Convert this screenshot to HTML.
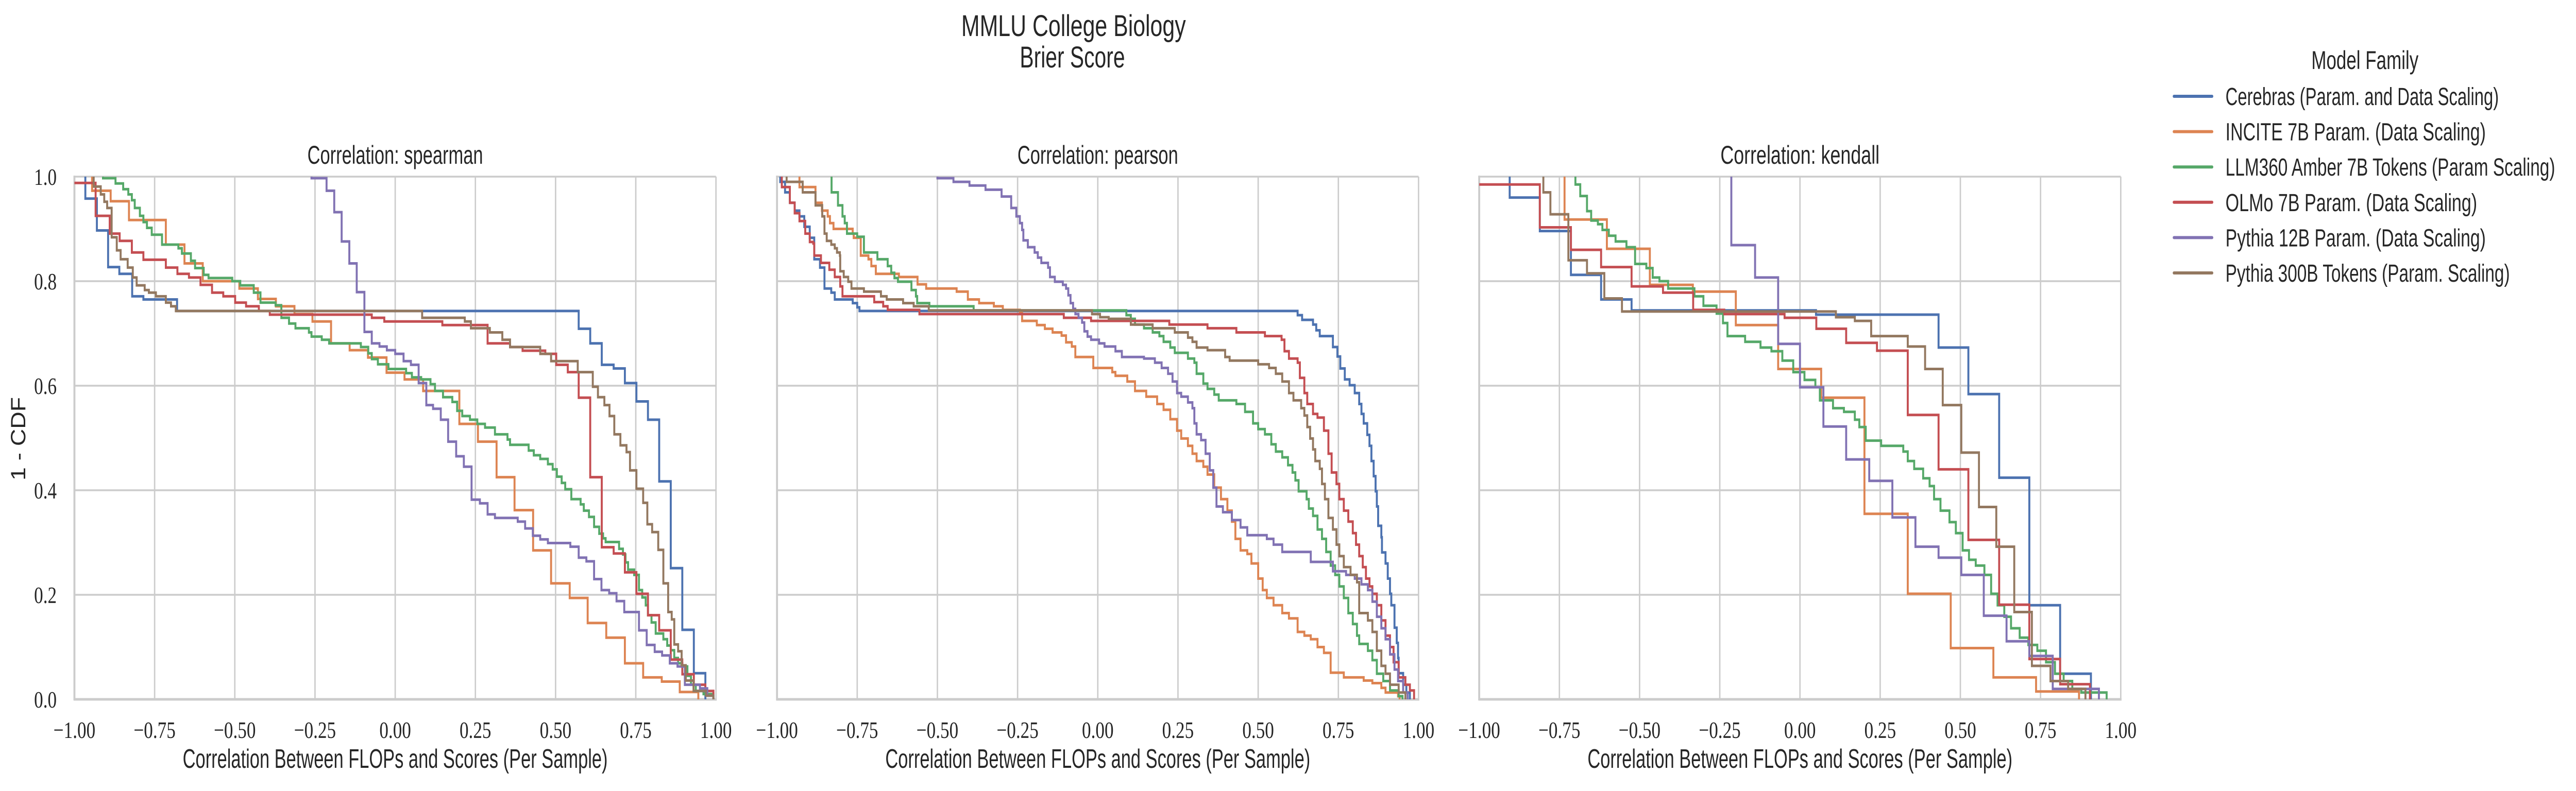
<!DOCTYPE html>
<html><head><meta charset="utf-8"><style>
html,body{margin:0;padding:0;background:#fff;overflow:hidden;width:100%;height:100%;}
svg{display:block;width:100vw;height:100vh;}
.sans{font-family:"Liberation Sans",sans-serif;fill:#262626;}
.serif{font-family:"Liberation Serif",serif;fill:#262626;}
</style></head><body>
<svg id="fig" xmlns="http://www.w3.org/2000/svg" viewBox="0 0 6541 1536" preserveAspectRatio="none">
<rect x="0" y="0" width="6541" height="1536" fill="#fff"/>
<text class="sans" x="2726" y="70" font-size="58" text-anchor="middle" textLength="570" lengthAdjust="spacingAndGlyphs">MMLU College Biology</text>
<text class="sans" x="2723" y="131" font-size="58" text-anchor="middle" textLength="267" lengthAdjust="spacingAndGlyphs">Brier Score</text>
<g id="panels"></g>
<g id="legend">
<text class="sans" x="6005" y="134" font-size="50" text-anchor="middle" textLength="272" lengthAdjust="spacingAndGlyphs">Model Family</text>
</g>
</svg>
<script>
// ---- data: categories and step-survival series (x = correlation, y = 1 - CDF) ----
const families = ["Cerebras (Param. and Data Scaling)","INCITE 7B Param. (Data Scaling)","LLM360 Amber 7B Tokens (Param Scaling)","OLMo 7B Param. (Data Scaling)","Pythia 12B Param. (Data Scaling)","Pythia 300B Tokens (Param. Scaling)"];
const colors = ["#4c72b0","#dd8452","#55a868","#c44e52","#8172b3","#937860"];
const panelTitles = ["Correlation: spearman","Correlation: pearson","Correlation: kendall"];
const xTicks = [-1,-0.75,-0.5,-0.25,0,0.25,0.5,0.75,1];
const xTickLabels = ["\u22121.00","\u22120.75","\u22120.50","\u22120.25","0.00","0.25","0.50","0.75","1.00"];
const yTicks = [0,0.2,0.4,0.6,0.8,1.0];
const yTickLabels = ["0.0","0.2","0.4","0.6","0.8","1.0"];

// Spearman
const sp_cerebras_start = 1.0;
const sp_cerebras = [[-0.966,0.958],[-0.93,0.897],[-0.895,0.827],[-0.86,0.814],[-0.82,0.771],[-0.785,0.765],[-0.68,0.743],[0.572,0.709],[0.608,0.681],[0.644,0.640],[0.681,0.633],[0.716,0.605],[0.752,0.570],[0.788,0.535],[0.823,0.417],[0.859,0.251],[0.895,0.133],[0.931,0.05],[0.967,0]];
const sp_incite_start = 1.0;
const sp_incite = [[-0.945,0.973],[-0.887,0.953],[-0.83,0.917],[-0.715,0.870],[-0.657,0.834],[-0.6,0.8],[-0.486,0.786],[-0.428,0.766],[-0.372,0.752],[-0.314,0.737],[-0.258,0.723],[-0.2,0.681],[-0.142,0.668],[-0.085,0.654],[-0.027,0.625],[0.029,0.612],[0.087,0.590],[0.2,0.527],[0.258,0.493],[0.316,0.425],[0.372,0.362],[0.43,0.285],[0.486,0.222],[0.544,0.194],[0.6,0.146],[0.658,0.118],[0.716,0.069],[0.773,0.042],[0.831,0.034],[0.887,0.014],[0.945,0]];
const sp_amber_start = 1.0;
const sp_amber = [[-0.911,0.997],[-0.872,0.987],[-0.848,0.976],[-0.832,0.966],[-0.821,0.955],[-0.812,0.940],[-0.796,0.925],[-0.785,0.913],[-0.774,0.902],[-0.759,0.889],[-0.727,0.870],[-0.676,0.863],[-0.665,0.853],[-0.637,0.839],[-0.624,0.825],[-0.597,0.812],[-0.582,0.806],[-0.508,0.8],[-0.483,0.792],[-0.441,0.778],[-0.420,0.759],[-0.373,0.754],[-0.355,0.730],[-0.331,0.719],[-0.311,0.710],[-0.269,0.702],[-0.261,0.694],[-0.229,0.688],[-0.206,0.681],[-0.107,0.674],[-0.084,0.662],[-0.073,0.651],[-0.054,0.641],[-0.021,0.632],[0.034,0.624],[0.052,0.616],[0.081,0.612],[0.110,0.603],[0.124,0.590],[0.149,0.578],[0.178,0.569],[0.193,0.552],[0.209,0.542],[0.233,0.535],[0.256,0.527],[0.280,0.520],[0.311,0.507],[0.350,0.497],[0.358,0.487],[0.416,0.476],[0.432,0.467],[0.452,0.460],[0.476,0.450],[0.491,0.440],[0.504,0.426],[0.519,0.414],[0.530,0.402],[0.549,0.383],[0.578,0.373],[0.588,0.361],[0.604,0.349],[0.620,0.330],[0.636,0.317],[0.648,0.308],[0.656,0.301],[0.698,0.288],[0.710,0.277],[0.718,0.262],[0.726,0.248],[0.745,0.238],[0.760,0.209],[0.770,0.195],[0.781,0.180],[0.788,0.161],[0.799,0.147],[0.812,0.126],[0.836,0.115],[0.848,0.103],[0.859,0.094],[0.870,0.079],[0.882,0.069],[0.895,0.063],[0.911,0.045],[0.922,0.028],[0.937,0.016],[0.961,0.010],[0.992,0]];
const sp_olmo_start = 0.988;
const sp_olmo = [[-0.934,0.925],[-0.890,0.891],[-0.859,0.877],[-0.821,0.855],[-0.785,0.841],[-0.715,0.826],[-0.679,0.814],[-0.643,0.807],[-0.607,0.793],[-0.571,0.778],[-0.536,0.771],[-0.499,0.759],[-0.465,0.752],[-0.425,0.743],[-0.391,0.736],[-0.073,0.730],[-0.034,0.723],[0.147,0.716],[0.288,0.681],[0.358,0.674],[0.397,0.667],[0.468,0.661],[0.502,0.640],[0.538,0.626],[0.572,0.577],[0.608,0.425],[0.644,0.291],[0.681,0.279],[0.716,0.243],[0.752,0.202],[0.788,0.161],[0.823,0.132],[0.859,0.076],[0.895,0.048],[0.931,0.028],[0.967,0.016],[0.992,0]];
const sp_pythia12_start = 1.0;
const sp_pythia12 = [[-0.261,0.997],[-0.214,0.973],[-0.190,0.932],[-0.167,0.876],[-0.143,0.834],[-0.120,0.779],[-0.096,0.703],[-0.073,0.681],[-0.049,0.675],[-0.026,0.668],[0.0,0.661],[0.026,0.647],[0.049,0.640],[0.073,0.605],[0.097,0.563],[0.118,0.556],[0.142,0.535],[0.165,0.493],[0.190,0.465],[0.214,0.445],[0.238,0.382],[0.264,0.375],[0.288,0.354],[0.311,0.347],[0.382,0.340],[0.405,0.327],[0.429,0.313],[0.452,0.306],[0.476,0.299],[0.546,0.292],[0.572,0.271],[0.596,0.264],[0.620,0.230],[0.643,0.209],[0.667,0.203],[0.690,0.188],[0.714,0.167],[0.760,0.132],[0.784,0.104],[0.809,0.091],[0.832,0.084],[0.856,0.069],[0.880,0.063],[0.903,0.028],[0.950,0.021],[0.973,0.007],[0.992,0]];
const sp_pythia300_start = 1.0;
const sp_pythia300 = [[-0.940,0.981],[-0.918,0.966],[-0.907,0.952],[-0.898,0.940],[-0.884,0.884],[-0.868,0.859],[-0.856,0.842],[-0.834,0.826],[-0.818,0.807],[-0.806,0.792],[-0.781,0.783],[-0.768,0.778],[-0.746,0.771],[-0.715,0.759],[-0.699,0.752],[-0.684,0.743],[0.084,0.730],[0.217,0.723],[0.236,0.710],[0.295,0.702],[0.334,0.688],[0.358,0.674],[0.452,0.661],[0.486,0.647],[0.569,0.626],[0.616,0.598],[0.632,0.578],[0.652,0.563],[0.668,0.542],[0.683,0.507],[0.702,0.486],[0.721,0.473],[0.732,0.438],[0.752,0.403],[0.773,0.376],[0.786,0.335],[0.801,0.320],[0.820,0.286],[0.836,0.222],[0.851,0.167],[0.862,0.153],[0.870,0.105],[0.882,0.092],[0.893,0.065],[0.906,0.036],[0.930,0.016],[0.969,0.007],[0.992,0]];

// Pearson
const pe_cerebras_start = 1.0;
const pe_cerebras = [[-0.99,0.99],[-0.975,0.97],[-0.96,0.95],[-0.945,0.935],[-0.93,0.924],[-0.915,0.904],[-0.898,0.883],[-0.884,0.842],[-0.866,0.826],[-0.852,0.786],[-0.831,0.778],[-0.820,0.765],[-0.764,0.758],[-0.750,0.750],[-0.743,0.743],[0.623,0.735],[0.637,0.726],[0.671,0.717],[0.681,0.706],[0.692,0.695],[0.733,0.674],[0.747,0.656],[0.756,0.633],[0.770,0.612],[0.785,0.601],[0.801,0.586],[0.815,0.565],[0.822,0.546],[0.829,0.528],[0.840,0.506],[0.847,0.485],[0.853,0.456],[0.860,0.427],[0.866,0.398],[0.870,0.369],[0.874,0.332],[0.884,0.310],[0.886,0.281],[0.897,0.260],[0.904,0.231],[0.911,0.202],[0.915,0.180],[0.925,0.137],[0.932,0.108],[0.936,0.079],[0.938,0.050],[0.952,0.028],[0.962,0.013],[0.973,0]];
const pe_incite_start = 1.0;
const pe_incite = [[-0.93,0.98],[-0.88,0.95],[-0.86,0.935],[-0.842,0.924],[-0.835,0.911],[-0.824,0.900],[-0.764,0.891],[-0.761,0.883],[-0.739,0.849],[-0.715,0.842],[-0.706,0.829],[-0.692,0.814],[-0.620,0.808],[-0.562,0.794],[-0.535,0.786],[-0.440,0.780],[-0.405,0.765],[-0.370,0.758],[-0.324,0.752],[-0.296,0.745],[-0.243,0.739],[-0.236,0.724],[-0.190,0.716],[-0.165,0.709],[-0.141,0.702],[-0.113,0.696],[-0.099,0.683],[-0.081,0.675],[-0.070,0.655],[-0.014,0.634],[0.045,0.626],[0.055,0.619],[0.092,0.608],[0.116,0.590],[0.151,0.579],[0.185,0.565],[0.205,0.554],[0.226,0.536],[0.247,0.514],[0.260,0.499],[0.281,0.485],[0.295,0.470],[0.308,0.456],[0.329,0.445],[0.342,0.430],[0.363,0.405],[0.384,0.383],[0.404,0.361],[0.418,0.340],[0.429,0.307],[0.445,0.285],[0.466,0.278],[0.479,0.260],[0.500,0.231],[0.514,0.209],[0.527,0.194],[0.548,0.180],[0.575,0.165],[0.596,0.155],[0.623,0.129],[0.644,0.122],[0.664,0.115],[0.685,0.100],[0.705,0.089],[0.726,0.051],[0.767,0.042],[0.829,0.036],[0.856,0.031],[0.884,0.022],[0.897,0.013],[0.936,0.006],[0.941,0]];
const pe_amber_start = 1.0;
const pe_amber = [[-0.83,0.97],[-0.81,0.945],[-0.796,0.924],[-0.789,0.911],[-0.782,0.891],[-0.750,0.885],[-0.729,0.855],[-0.687,0.842],[-0.655,0.829],[-0.644,0.816],[-0.634,0.806],[-0.623,0.799],[-0.581,0.783],[-0.567,0.771],[-0.563,0.758],[-0.525,0.752],[-0.387,0.744],[0.089,0.735],[0.103,0.728],[0.116,0.717],[0.144,0.710],[0.171,0.702],[0.192,0.695],[0.205,0.684],[0.226,0.673],[0.240,0.663],[0.281,0.652],[0.301,0.644],[0.308,0.623],[0.329,0.604],[0.342,0.594],[0.363,0.583],[0.377,0.572],[0.432,0.565],[0.459,0.550],[0.484,0.528],[0.500,0.517],[0.521,0.507],[0.541,0.488],[0.555,0.474],[0.575,0.463],[0.593,0.448],[0.607,0.434],[0.616,0.419],[0.626,0.398],[0.651,0.383],[0.658,0.365],[0.671,0.351],[0.685,0.325],[0.699,0.307],[0.712,0.282],[0.726,0.256],[0.740,0.238],[0.753,0.216],[0.767,0.194],[0.781,0.165],[0.795,0.144],[0.808,0.122],[0.815,0.106],[0.842,0.093],[0.856,0.075],[0.870,0.049],[0.890,0.035],[0.911,0.017],[0.938,0.006],[0.95,0]];
const pe_olmo_start = 1.0;
const pe_olmo = [[-0.985,0.98],[-0.96,0.95],[-0.945,0.93],[-0.930,0.915],[-0.912,0.891],[-0.898,0.875],[-0.887,0.872],[-0.884,0.849],[-0.863,0.835],[-0.837,0.822],[-0.820,0.808],[-0.803,0.790],[-0.796,0.771],[-0.697,0.760],[-0.669,0.752],[-0.655,0.745],[-0.556,0.737],[-0.106,0.730],[-0.021,0.724],[0.223,0.717],[0.342,0.710],[0.432,0.702],[0.521,0.695],[0.573,0.688],[0.582,0.666],[0.596,0.652],[0.623,0.644],[0.630,0.615],[0.644,0.586],[0.653,0.565],[0.671,0.546],[0.685,0.539],[0.705,0.514],[0.719,0.470],[0.729,0.434],[0.744,0.412],[0.753,0.383],[0.767,0.361],[0.781,0.340],[0.795,0.318],[0.805,0.296],[0.815,0.274],[0.826,0.253],[0.836,0.231],[0.847,0.216],[0.856,0.202],[0.870,0.180],[0.884,0.151],[0.897,0.122],[0.911,0.100],[0.922,0.071],[0.938,0.042],[0.959,0.028],[0.973,0.017],[0.986,0]];
const pe_pythia12_start = 1.0;
const pe_pythia12 = [[-0.5,0.997],[-0.45,0.99],[-0.4,0.983],[-0.35,0.975],[-0.3,0.962],[-0.27,0.94],[-0.254,0.924],[-0.243,0.911],[-0.236,0.898],[-0.232,0.878],[-0.218,0.865],[-0.197,0.855],[-0.187,0.845],[-0.176,0.835],[-0.155,0.826],[-0.149,0.808],[-0.134,0.799],[-0.109,0.793],[-0.099,0.786],[-0.092,0.773],[-0.085,0.758],[-0.077,0.747],[-0.070,0.737],[-0.060,0.730],[-0.049,0.721],[-0.042,0.704],[-0.032,0.694],[-0.021,0.688],[0.004,0.681],[0.021,0.675],[0.055,0.666],[0.075,0.655],[0.144,0.652],[0.178,0.644],[0.199,0.634],[0.219,0.623],[0.233,0.608],[0.247,0.586],[0.260,0.579],[0.281,0.568],[0.295,0.557],[0.301,0.528],[0.308,0.507],[0.322,0.496],[0.336,0.470],[0.349,0.438],[0.360,0.405],[0.370,0.369],[0.390,0.358],[0.418,0.343],[0.445,0.329],[0.466,0.314],[0.527,0.307],[0.548,0.296],[0.575,0.282],[0.664,0.263],[0.733,0.245],[0.774,0.238],[0.801,0.231],[0.822,0.220],[0.842,0.209],[0.856,0.187],[0.870,0.158],[0.884,0.136],[0.897,0.115],[0.911,0.086],[0.925,0.057],[0.936,0.035],[0.952,0.013],[0.966,0]];
const pe_pythia300_start = 1.0;
const pe_pythia300 = [[-0.97,0.99],[-0.92,0.97],[-0.88,0.945],[-0.859,0.924],[-0.852,0.891],[-0.845,0.877],[-0.831,0.870],[-0.820,0.863],[-0.813,0.855],[-0.804,0.849],[-0.803,0.819],[-0.792,0.808],[-0.778,0.799],[-0.768,0.786],[-0.729,0.780],[-0.676,0.771],[-0.658,0.765],[-0.607,0.758],[-0.574,0.752],[-0.527,0.744],[-0.018,0.737],[0.007,0.731],[0.034,0.728],[0.103,0.717],[0.171,0.710],[0.240,0.702],[0.281,0.692],[0.295,0.684],[0.308,0.673],[0.342,0.668],[0.397,0.655],[0.411,0.648],[0.500,0.641],[0.534,0.634],[0.555,0.623],[0.575,0.608],[0.596,0.586],[0.610,0.572],[0.634,0.557],[0.644,0.543],[0.653,0.521],[0.662,0.499],[0.671,0.478],[0.678,0.456],[0.692,0.441],[0.699,0.412],[0.708,0.383],[0.719,0.347],[0.733,0.325],[0.744,0.296],[0.753,0.274],[0.767,0.253],[0.788,0.238],[0.808,0.224],[0.815,0.165],[0.842,0.151],[0.856,0.129],[0.870,0.093],[0.884,0.064],[0.897,0.049],[0.911,0.028],[0.938,0.013],[0.959,0]];

// Kendall
const ke_cerebras_start = 1.0;
const ke_cerebras = [[-0.905,0.96],[-0.811,0.896],[-0.714,0.812],[-0.620,0.765],[-0.525,0.744],[0.050,0.736],[0.432,0.673],[0.525,0.584],[0.621,0.424],[0.715,0.180],[0.811,0.049],[0.907,0]];
const ke_incite_start = 1.0;
const ke_incite = [[-0.734,0.918],[-0.602,0.862],[-0.468,0.793],[-0.334,0.780],[-0.200,0.716],[-0.068,0.632],[0.066,0.577],[0.201,0.355],[0.336,0.202],[0.470,0.098],[0.603,0.042],[0.736,0.015],[0.870,0]];
const ke_amber_start = 1.0;
const ke_amber = [[-0.70,0.985],[-0.685,0.963],[-0.664,0.934],[-0.651,0.916],[-0.630,0.909],[-0.616,0.898],[-0.596,0.887],[-0.575,0.876],[-0.541,0.865],[-0.514,0.833],[-0.479,0.825],[-0.459,0.807],[-0.438,0.800],[-0.411,0.786],[-0.329,0.771],[-0.301,0.753],[-0.260,0.738],[-0.240,0.720],[-0.226,0.695],[-0.171,0.684],[-0.123,0.673],[-0.089,0.666],[-0.055,0.648],[-0.021,0.626],[0.014,0.611],[0.048,0.597],[0.062,0.572],[0.103,0.557],[0.137,0.550],[0.171,0.535],[0.185,0.521],[0.205,0.495],[0.253,0.485],[0.322,0.474],[0.336,0.456],[0.356,0.441],[0.384,0.423],[0.404,0.408],[0.418,0.383],[0.438,0.361],[0.466,0.339],[0.486,0.318],[0.507,0.285],[0.527,0.267],[0.548,0.256],[0.575,0.238],[0.596,0.202],[0.616,0.180],[0.637,0.158],[0.658,0.136],[0.685,0.118],[0.712,0.104],[0.740,0.093],[0.767,0.071],[0.795,0.049],[0.822,0.035],[0.849,0.020],[0.877,0.013],[0.956,0]];
const ke_olmo_start = 0.985;
const ke_olmo = [[-0.811,0.903],[-0.714,0.860],[-0.620,0.827],[-0.525,0.790],[-0.427,0.778],[-0.333,0.745],[-0.236,0.737],[-0.048,0.730],[0.051,0.709],[0.144,0.682],[0.240,0.667],[0.336,0.544],[0.432,0.440],[0.525,0.305],[0.621,0.181],[0.715,0.077],[0.811,0.029],[0.904,0]];
const ke_pythia12_start = 1.0;
const ke_pythia12 = [[-0.214,0.869],[-0.140,0.807],[-0.068,0.680],[0.0,0.597],[0.073,0.522],[0.144,0.459],[0.216,0.418],[0.288,0.348],[0.360,0.292],[0.432,0.271],[0.503,0.238],[0.573,0.160],[0.644,0.111],[0.715,0.083],[0.788,0.020],[0.932,0]];
const ke_pythia300_start = 1.0;
const ke_pythia300 = [[-0.80,0.97],[-0.778,0.928],[-0.722,0.840],[-0.664,0.815],[-0.610,0.767],[-0.555,0.742],[0.112,0.731],[0.171,0.724],[0.222,0.695],[0.336,0.675],[0.390,0.632],[0.445,0.563],[0.503,0.472],[0.558,0.368],[0.612,0.292],[0.668,0.167],[0.723,0.064],[0.781,0.035],[0.836,0.020],[0.890,0]];

const seriesByPanel = [
  [[sp_cerebras_start,sp_cerebras],[sp_incite_start,sp_incite],[sp_amber_start,sp_amber],[sp_olmo_start,sp_olmo],[sp_pythia12_start,sp_pythia12],[sp_pythia300_start,sp_pythia300]],
  [[pe_cerebras_start,pe_cerebras],[pe_incite_start,pe_incite],[pe_amber_start,pe_amber],[pe_olmo_start,pe_olmo],[pe_pythia12_start,pe_pythia12],[pe_pythia300_start,pe_pythia300]],
  [[ke_cerebras_start,ke_cerebras],[ke_incite_start,ke_incite],[ke_amber_start,ke_amber],[ke_olmo_start,ke_olmo],[ke_pythia12_start,ke_pythia12],[ke_pythia300_start,ke_pythia300]]
];

// ---- layout ----
const NS = "http://www.w3.org/2000/svg";
const panelLeft = [189, 1973, 3756];
const panelW = 1629;
const yTop = 343, yBot = 1358;
const titleW = [446, 408, 404];
const panelNames = ["spearman","pearson","kendall"];
const seriesKeys = ["cerebras","incite","llm360-amber","olmo","pythia-12b","pythia-300b"];

function mk(tag, attrs, parent){
  const e = document.createElementNS(NS, tag);
  for (const k in attrs) e.setAttribute(k, attrs[k]);
  parent.appendChild(e);
  return e;
}
function xScale(p, v){ return panelLeft[p] + (v + 1) / 2 * panelW; }
function yScale(v){ return yBot - v * (yBot - yTop); }

const root = document.getElementById("panels");
for (let p = 0; p < 3; p++) {
  const g = mk("g", {}, root);
  
  
  const L = panelLeft[p], R = L + panelW;
  xTicks.forEach((t) => {
    const X = xScale(p, t);
    const ln = mk("line", {x1:X, x2:X, y1:yTop, y2:yBot, stroke:"#cccccc", "stroke-width":3.5}, g);
    
    
  });
  yTicks.forEach((t) => {
    const Y = yScale(t);
    const ln = mk("line", {x1:L, x2:R, y1:Y, y2:Y, stroke:"#cccccc", "stroke-width":3.5}, g);
    
    
  });
  const sl = mk("line", {x1:L, x2:L, y1:yTop-2, y2:yBot+2, stroke:"#cccccc", "stroke-width":5}, g);
  
  
  const sb = mk("line", {x1:L-2, x2:R+2, y1:yBot, y2:yBot, stroke:"#cccccc", "stroke-width":5}, g);
  
  
  seriesByPanel[p].forEach((s, i) => {
    const y0 = s[0], steps = s[1];
    let x0 = -1;
    if (y0 >= 1.0 && steps.length) x0 = steps[0][0];
    let d = "M" + xScale(p, x0).toFixed(1) + "," + yScale(y0).toFixed(1);
    steps.forEach((st) => {
      d += " H" + xScale(p, st[0]).toFixed(1) + " V" + yScale(st[1]).toFixed(1);
    });
    const path = mk("path", {d:d, fill:"none", stroke:colors[i], "stroke-width":5, "stroke-linejoin":"miter"}, g);
    
    
  });
  xTicks.forEach((t, k) => {
    const tx = mk("text", {x:xScale(p, t), y:1433, "font-size":46, "text-anchor":"middle", class:"serif"}, g);
    tx.textContent = xTickLabels[k];
    
    
  });
  const tt = mk("text", {x:L + panelW/2, y:318, "font-size":50, "text-anchor":"middle", class:"sans", textLength:titleW[p], lengthAdjust:"spacingAndGlyphs"}, g);
  tt.textContent = panelTitles[p];
  
  
  const xl = mk("text", {x:L + panelW/2, y:1491, "font-size":52, "text-anchor":"middle", class:"sans", textLength:1079, lengthAdjust:"spacingAndGlyphs"}, g);
  xl.textContent = "Correlation Between FLOPs and Scores (Per Sample)";
  
  
  if (p === 0) {
    yTicks.forEach((t, k) => {
      const ty = mk("text", {x:144, y:yScale(t) + 16, "font-size":46, "text-anchor":"end", class:"serif"}, g);
      ty.textContent = yTickLabels[k];
      
      
    });
    const yl = mk("text", {x:0, y:0, "font-size":52, "text-anchor":"middle", class:"sans", textLength:162, lengthAdjust:"spacingAndGlyphs", transform:"translate(64,852) rotate(-90)"}, g);
    yl.textContent = "1 - CDF";
    
    
  }
}

const legend = document.getElementById("legend");
const legendTextW = [694, 661, 837, 639, 661, 722];
families.forEach((f, i) => {
  const yy = 187 + 68.6 * i;
  const eg = mk("g", {}, legend);
  
  
  const ln = mk("line", {x1:5520, x2:5617, y1:yy, y2:yy, stroke:colors[i], "stroke-width":6, "stroke-linecap":"round"}, eg);
  
  
  const tx = mk("text", {x:5651, y:yy + 17, "font-size":48, class:"sans", textLength:legendTextW[i], lengthAdjust:"spacingAndGlyphs"}, eg);
  tx.textContent = f;
  
  
});
</script>
</body></html>
